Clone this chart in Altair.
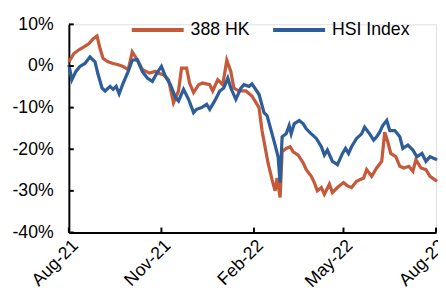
import altair as alt
import pandas as pd

series_names = ["388 HK", "HSI Index"]
series_colors = ["#C55A3A", "#2E5E99"]

# day offsets from 2021-08-01 and returns in %
hk_days = [0, 5, 10, 15, 20, 24, 28, 31, 34, 39, 44, 49, 54, 59, 63, 68, 73, 80, 86, 88,
           94, 99, 104, 109, 112, 117, 120, 124, 129, 133, 140, 143, 148, 153, 157, 161, 164, 169, 176, 182,
           189, 192, 195, 198, 202, 205, 207, 210, 212, 216, 220, 223, 228, 233, 236, 241, 244, 247, 251, 254,
           259, 262, 267, 273, 277, 281, 286, 293, 296, 301, 306, 311, 314, 317, 320, 325, 329, 333, 338, 342,
           345, 350, 355, 359, 366]
hk_vals = [1.0, 3.0, 3.9, 4.6, 5.4, 6.5, 7.2, 4.2, 1.8, 1.0, 0.6, 0.3, -0.1, -0.9, 3.4, 1.5, -0.8, -1.7, -1.3, -1.7,
           -2.1, -3.3, -8.8, -6.0, -0.5, -0.5, -4.1, -6.4, -4.5, -4.1, -4.5, -6.0, -3.3, -4.5, 1.4, -1.3, -5.3, -6.0, -6.0, -7.2,
           -10.0, -15.5, -19.4, -23.3, -27.3, -30.0, -26.9, -31.6, -20.6, -19.8, -19.4, -20.6, -21.4, -23.3, -24.9, -26.5, -28.0, -30.0, -29.2, -30.8,
           -28.4, -30.4, -29.2, -28.0, -28.8, -29.2, -27.7, -26.9, -24.9, -26.5, -24.5, -22.9, -15.9, -18.2, -21.0, -21.8, -24.1, -24.5, -24.1, -25.3,
           -22.5, -24.5, -24.9, -26.5, -27.7]

hsi_days = [0, 3, 7, 11, 16, 21, 26, 29, 33, 36, 41, 44, 47, 50, 54, 59, 63, 68, 73, 78,
            83, 88, 92, 96, 101, 106, 109, 114, 119, 124, 127, 132, 137, 140, 145, 150, 154, 158, 161, 166,
            171, 174, 179, 182, 189, 194, 197, 202, 205, 208, 210, 212, 216, 219, 221, 224, 229, 233, 236, 241,
            246, 251, 254, 257, 262, 267, 272, 275, 278, 281, 286, 291, 294, 299, 303, 306, 309, 312, 316, 319,
            324, 329, 332, 337, 342, 346, 351, 355, 359, 366]
hsi_vals = [0.3, -3.3, -1.3, -0.1, 0.6, 2.2, 1.0, -2.0, -5.3, -6.0, -4.9, -5.6, -4.9, -6.7, -4.1, -1.3, 1.4, 1.5, -1.3, -2.9,
            -3.7, -1.5, -0.1, -2.5, -4.5, -7.6, -8.4, -5.6, -8.0, -11.2, -10.4, -10.0, -9.2, -10.4, -8.4, -6.0, -5.3, -2.9, -5.3, -8.0,
            -5.3, -4.5, -4.9, -4.3, -6.8, -11.2, -11.9, -16.3, -19.0, -21.8, -28.0, -17.0, -16.3, -14.3, -16.3, -13.9, -13.1, -13.9, -15.1, -16.3,
            -17.4, -19.4, -21.4, -20.2, -22.9, -23.7, -21.0, -19.8, -21.0, -19.4, -17.4, -16.3, -14.7, -16.3, -17.8, -17.0, -15.9, -14.3, -13.1, -15.5,
            -15.5, -17.0, -19.8, -19.0, -20.2, -21.8, -21.0, -22.9, -21.8, -22.5]

y_ticks = [-40, -30, -20, -10, 0, 10]
x_ticks = ["2021-08-01", "2021-11-01", "2022-02-01", "2022-05-01", "2022-08-01"]

start = pd.Timestamp("2021-08-01")
df = pd.concat([
    pd.DataFrame({"date": start + pd.to_timedelta(hk_days, unit="D"), "value": hk_vals,
                  "series": series_names[0], "k": 0}),
    pd.DataFrame({"date": start + pd.to_timedelta(hsi_days, unit="D"), "value": hsi_vals,
                  "series": series_names[1], "k": 1}),
], ignore_index=True)

tick_dates = [pd.Timestamp(t) for t in x_ticks]
x_tick_vals = [alt.DateTime(year=t.year, month=t.month, date=t.day) for t in tick_dates]

FONT = "Liberation Sans"
W, H = 374, 212

x_axis = alt.Axis(values=x_tick_vals, format="%b-%y", labelAngle=-45, title=None,
                  grid=False, ticks=False, labelPadding=4,
                  domainColor="black", domainWidth=2, labelFontSize=18,
                  labelFont=FONT, labelColor="black")
y_axis = alt.Axis(values=y_ticks, labelExpr="datum.value + '%'", title=None,
                  grid=False, ticks=False, labelPadding=16,
                  domainColor="black", domainWidth=2, labelFontSize=18,
                  labelFont=FONT, labelColor="black")

x_scale = alt.Scale(domain=[x_tick_vals[0], x_tick_vals[-1]])
y_scale = alt.Scale(domain=[-40, 10], nice=False, zero=False)

lines = alt.Chart(df).mark_line(strokeWidth=3.3, clip=False).encode(
    x=alt.X("date:T", scale=x_scale, axis=x_axis),
    y=alt.Y("value:Q", scale=y_scale, axis=y_axis),
    color=alt.Color("series:N", scale=alt.Scale(domain=series_names, range=series_colors),
                    legend=alt.Legend(orient="none", legendX=62, legendY=-23, direction="horizontal",
                                      title=None, symbolType="stroke", symbolSize=2800,
                                      symbolStrokeWidth=4, labelFontSize=18, labelFont=FONT,
                                      labelColor="black", labelOffset=5, columnPadding=15)),
    order=alt.Order("k:Q"),
    detail="series:N",
)

yt = alt.Chart(pd.DataFrame({"value": y_ticks})).mark_rule(color="black", strokeWidth=2).encode(
    y=alt.Y("value:Q", scale=y_scale, axis=y_axis),
    x=alt.value(0), x2=alt.value(5),
)
xt = alt.Chart(pd.DataFrame({"date": tick_dates})).mark_rule(color="black", strokeWidth=2).encode(
    x=alt.X("date:T", scale=x_scale, axis=x_axis),
    y=alt.value(H), y2=alt.value(H - 5),
)

chart = alt.layer(lines, yt, xt).properties(
    width=W, height=H,
    autosize=alt.AutoSizeParams(type="none"),
    padding={"left": 62, "top": 14, "right": 2, "bottom": 61},
).configure_view(stroke=None).configure(background="white")

chart.save("out.html", embed_options={"renderer": "svg", "actions": False})
